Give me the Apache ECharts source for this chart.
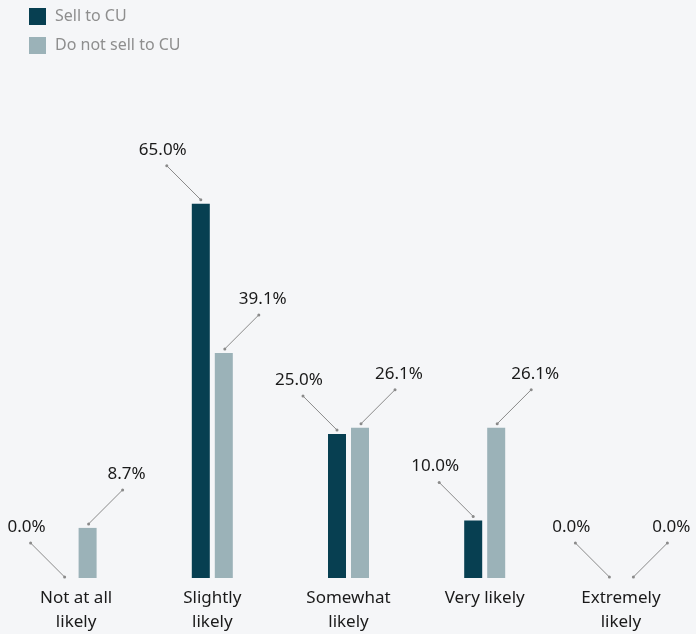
<!DOCTYPE html>
<html>
<head>
<meta charset="utf-8">
<title>Likelihood by CU selling status</title>
<script src="https://cdn.jsdelivr.net/npm/echarts@6/dist/echarts.min.js"></script>
<style>
  html, body { margin: 0; padding: 0; background: #f5f6f8; }
  #chart { width: 696px; height: 634px; }
</style>
</head>
<body>
<div id="chart"></div>
<script>
// Response categories along the x axis
const categories = ['Not at all\nlikely', 'Slightly\nlikely', 'Somewhat\nlikely', 'Very likely', 'Extremely\nlikely'];
// Share of respondents (%) in each group
const sellToCU = [0.0, 65.0, 25.0, 10.0, 0.0];
const notSellToCU = [8.7, 39.1, 26.1, 26.1, 0.0];
const seriesNames = ['Sell to CU', 'Do not sell to CU'];
const seriesColors = ['#073f51', '#9bb2b8'];

const BAR_W = 18;
const BAR_GAP_PX = 5;
const FONT = '"Noto Sans", sans-serif';

// Value callout: a leader line with end dots running from the bar top to its label
function callout(side) {
  return function (params, api) {
    const idx = api.value(0);
    const v = api.value(1);
    const p = api.coord([idx, v]);
    const cx = p[0] + side * (BAR_W + BAR_GAP_PX) / 2 + (side > 0 ? 1 : 0);
    const y0 = p[1] - (v > 0 ? 4 : 1);
    const x1 = cx + side * 34;
    const y1 = y0 - 34;
    const lineStyle = { stroke: '#8a8a8a', lineWidth: 1 };
    const dotStyle = { fill: '#8a8a8a' };
    return {
      type: 'group',
      children: [
        { type: 'line', shape: { x1: cx, y1: y0, x2: x1, y2: y1 }, style: lineStyle },
        { type: 'circle', shape: { cx: cx, cy: y0, r: 1.5 }, style: dotStyle },
        { type: 'circle', shape: { cx: x1, cy: y1, r: 1.5 }, style: dotStyle },
        {
          type: 'text',
          style: {
            text: v.toFixed(1) + '%',
            x: x1 + side * 4,
            y: y1 - 16,
            align: 'center',
            verticalAlign: 'middle',
            fill: '#1a1a1a',
            font: '17px ' + FONT
          }
        }
      ]
    };
  };
}

const chart = echarts.init(document.getElementById('chart'));
chart.setOption({
  backgroundColor: '#f5f6f8',
  animation: false,
  color: seriesColors,
  legend: {
    data: seriesNames,
    orient: 'vertical',
    left: 29,
    top: 8,
    padding: 0,
    itemWidth: 17,
    itemHeight: 17,
    itemGap: 12,
    icon: 'rect',
    textStyle: { color: '#8e8e8e', fontSize: 16, fontFamily: FONT, padding: [0, 0, 0, 4] }
  },
  grid: { left: 8, right: 7, top: 175, bottom: 56, containLabel: false },
  xAxis: {
    type: 'category',
    data: categories,
    axisLine: { show: false },
    axisTick: { show: false },
    axisLabel: {
      color: '#1a1a1a',
      fontSize: 17,
      fontFamily: FONT,
      lineHeight: 24,
      margin: 8,
      interval: 0
    }
  },
  yAxis: {
    type: 'value',
    min: 0,
    max: 70,
    show: false,
    splitLine: { show: false }
  },
  series: [
    {
      name: seriesNames[0],
      type: 'bar',
      data: sellToCU,
      barWidth: BAR_W,
      barGap: (BAR_GAP_PX / BAR_W * 100) + '%',
      itemStyle: { color: seriesColors[0] }
    },
    {
      name: seriesNames[1],
      type: 'bar',
      data: notSellToCU,
      barWidth: BAR_W,
      itemStyle: { color: seriesColors[1] }
    },
    {
      name: 'callout-sell',
      type: 'custom',
      renderItem: callout(-1),
      data: sellToCU.map((v, i) => [i, v]),
      z: 5,
      silent: true
    },
    {
      name: 'callout-notsell',
      type: 'custom',
      renderItem: callout(1),
      data: notSellToCU.map((v, i) => [i, v]),
      z: 5,
      silent: true
    }
  ]
});
</script>
</body>
</html>
